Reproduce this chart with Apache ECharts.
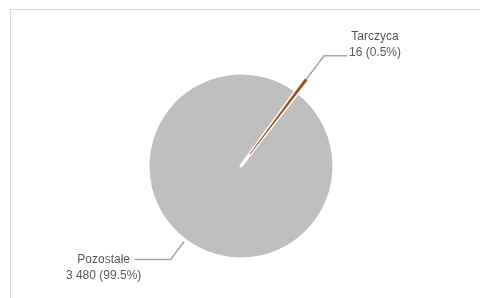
<!DOCTYPE html>
<html lang="pl">
<head>
  <meta charset="UTF-8">
  <title>Tarczyca</title>
  <script src="https://cdn.jsdelivr.net/npm/echarts@6/dist/echarts.min.js"></script>
  <style>
    html, body { margin: 0; padding: 0; background: #fff; }
    #frame {
      position: absolute; left: 10px; top: 9px;
      width: 480px; height: 300px;
      border: 1px solid #d9d9d9;
    }
    #main {
      position: absolute; left: 0; top: 0;
      width: 480px; height: 298px;
    }
  </style>
</head>
<body>

<div id="frame"></div>
<div id="main"></div>

<script>
  // Pozostałe first so the thin slice is drawn on top of it
  var names = ['Pozostałe', 'Tarczyca'];
  var values = [3480, 16];
  var percents = ['99.5%', '0.5%'];
  var colors = ['#bfbfbf', '#9c4a14'];

  function fmt(n) {
    return String(n).replace(/\B(?=(\d{3})+(?!\d))/g, ' ');
  }

  var labelText = {
    color: '#595959',
    fontFamily: 'Liberation Sans',
    fontSize: 12,
    lineHeight: 16
  };

  var bigStyle = { color: colors[0], borderColor: '#fff', borderWidth: 3 };
  var smallStyle = { color: colors[1], borderColor: colors[1], borderWidth: 0.6 };

  var data = [
    {
      name: names[0],
      value: values[0],
      itemStyle: bigStyle,
      select: { itemStyle: bigStyle },
      labelLine: { length: 24, length2: 36 },
      label: {
        distanceToLabelLine: -7,
        padding: [16, 0, 0, 0],
        rich: { a: Object.assign({ width: 76, align: 'center' }, labelText) }
      }
    },
    {
      name: names[1],
      value: values[1],
      selected: true,
      itemStyle: smallStyle,
      select: { itemStyle: smallStyle },
      labelLine: { length: 30, length2: 23 },
      label: {
        distanceToLabelLine: 2,
        padding: [0, 0, 22, 0],
        rich: { a: Object.assign({ width: 52, align: 'center' }, labelText) }
      }
    }
  ];

  var chart = echarts.init(document.querySelector('#main'));
  chart.setOption({
    animation: false,
    series: [{
      type: 'pie',
      center: [241, 166],
      radius: 93,
      startAngle: 52.2,
      clockwise: true,
      selectedMode: 'single',
      selectedOffset: 15,
      avoidLabelOverlap: false,
      emphasis: { disabled: true },
      label: {
        position: 'outside',
        formatter: function (p) {
          var i = p.dataIndex;
          return '{a|' + names[i] + '}\n{a|' + fmt(values[i]) + ' (' + percents[i] + ')}';
        }
      },
      labelLine: {
        show: true,
        lineStyle: { color: '#a6a6a6', width: 1.5 }
      },
      data: data
    }]
  });
</script>
</body>
</html>
